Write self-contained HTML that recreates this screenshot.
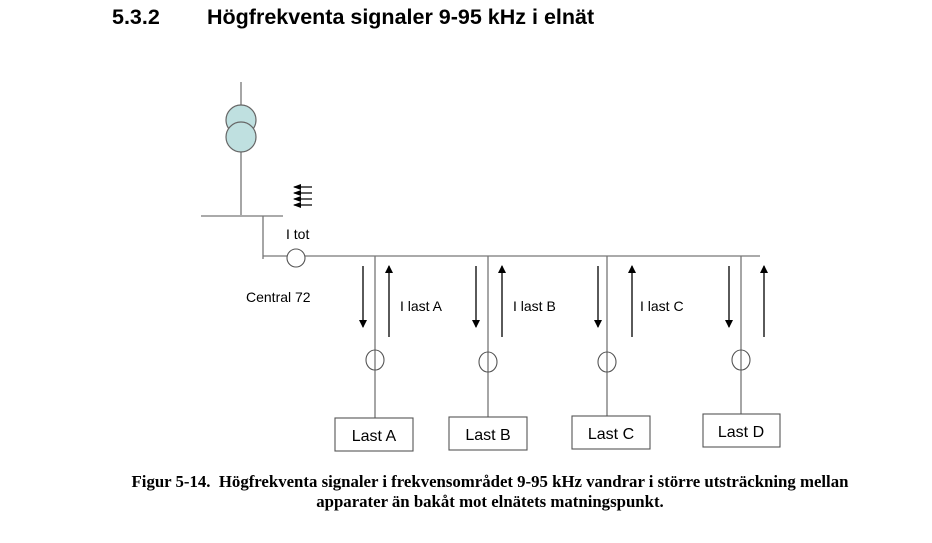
<!DOCTYPE html>
<html><head><meta charset="utf-8"><style>
body{margin:0;background:#fff;width:932px;height:543px;overflow:hidden;position:relative;font-family:"Liberation Sans",sans-serif}
.t{position:absolute;white-space:nowrap}
</style></head><body>
<div class="t" style="left:112px;top:5px;font-size:21.5px;font-weight:bold">5.3.2</div>
<div class="t" style="left:207px;top:5px;font-size:21.5px;font-weight:bold">Högfrekventa signaler 9-95 kHz i elnät</div>
<svg width="932" height="543" style="position:absolute;left:0;top:0">
<defs><marker id="a" markerWidth="8" markerHeight="8" refX="7" refY="4" orient="auto" markerUnits="userSpaceOnUse"><path d="M0,0L8,4L0,8z" fill="#000"/></marker>
<marker id="b" markerWidth="8" markerHeight="6" refX="7" refY="3" orient="auto" markerUnits="userSpaceOnUse"><path d="M0,0L8,3L0,6z" fill="#000"/></marker></defs>
<g stroke="#777" stroke-width="1.3" fill="none">
<line x1="241" y1="82" x2="241" y2="215"/>
<line x1="201" y1="216" x2="283" y2="216"/>
<line x1="263" y1="216" x2="263" y2="259"/>
<line x1="263" y1="256" x2="760" y2="256"/>
<line x1="375" y1="256" x2="375" y2="418"/>
<line x1="488" y1="256" x2="488" y2="417"/>
<line x1="607" y1="256" x2="607" y2="416"/>
<line x1="741" y1="256" x2="741" y2="414"/>
</g>
<g stroke="#666" stroke-width="1.2" fill="#bfe0e0">
<circle cx="241" cy="120" r="15"/><circle cx="241" cy="137" r="15"/>
</g>
<ellipse cx="296" cy="258" rx="9" ry="9" stroke="#555" stroke-width="1.1" fill="#fff"/>
<g stroke="#555" stroke-width="1.1" fill="none">
<ellipse cx="375" cy="360" rx="9" ry="10"/>
<ellipse cx="488" cy="362" rx="9" ry="10"/>
<ellipse cx="607" cy="362" rx="9" ry="10"/>
<ellipse cx="741" cy="360" rx="9" ry="10"/>
</g>
<g stroke="#000" stroke-width="1.3">
<line x1="312" y1="187" x2="294" y2="187" marker-end="url(#b)"/>
<line x1="312" y1="193" x2="294" y2="193" marker-end="url(#b)"/>
<line x1="312" y1="199" x2="294" y2="199" marker-end="url(#b)"/>
<line x1="312" y1="205" x2="294" y2="205" marker-end="url(#b)"/>
</g>
<g stroke="#000" stroke-width="1.3" marker-end="url(#a)">
<line x1="363" y1="266" x2="363" y2="327"/>
<line x1="476" y1="266" x2="476" y2="327"/>
<line x1="598" y1="266" x2="598" y2="327"/>
<line x1="729" y1="266" x2="729" y2="327"/>
<line x1="389" y1="337" x2="389" y2="266"/>
<line x1="502" y1="337" x2="502" y2="266"/>
<line x1="632" y1="337" x2="632" y2="266"/>
<line x1="764" y1="337" x2="764" y2="266"/>
</g>
<g stroke="#555" stroke-width="1.1" fill="#fff">
<rect x="335" y="418" width="78" height="33"/>
<rect x="449" y="417" width="78" height="33"/>
<rect x="572" y="416" width="78" height="33"/>
<rect x="703" y="414" width="77" height="33"/>
</g>
<g font-family="Liberation Sans,sans-serif" font-size="14" fill="#000">
<text x="286" y="239">I tot</text>
<text x="246" y="302">Central 72</text>
<text x="400" y="311">I last A</text>
<text x="513" y="311">I last B</text>
<text x="640" y="311">I last C</text>
</g>
<g font-family="Liberation Sans,sans-serif" font-size="16" fill="#000" text-anchor="middle">
<text x="374" y="441">Last A</text>
<text x="488" y="440">Last B</text>
<text x="611" y="439">Last C</text>
<text x="741" y="437">Last D</text>
</g>
</svg>
<div class="t" style="left:0;width:980px;text-align:center;top:472px;font-family:'Liberation Serif',serif;font-weight:bold;font-size:16.8px;line-height:20px">Figur 5-14.&nbsp; Högfrekventa signaler i frekvensområdet 9-95 kHz vandrar i större utsträckning mellan<br>apparater än bakåt mot elnätets matningspunkt.</div>
</body></html>
